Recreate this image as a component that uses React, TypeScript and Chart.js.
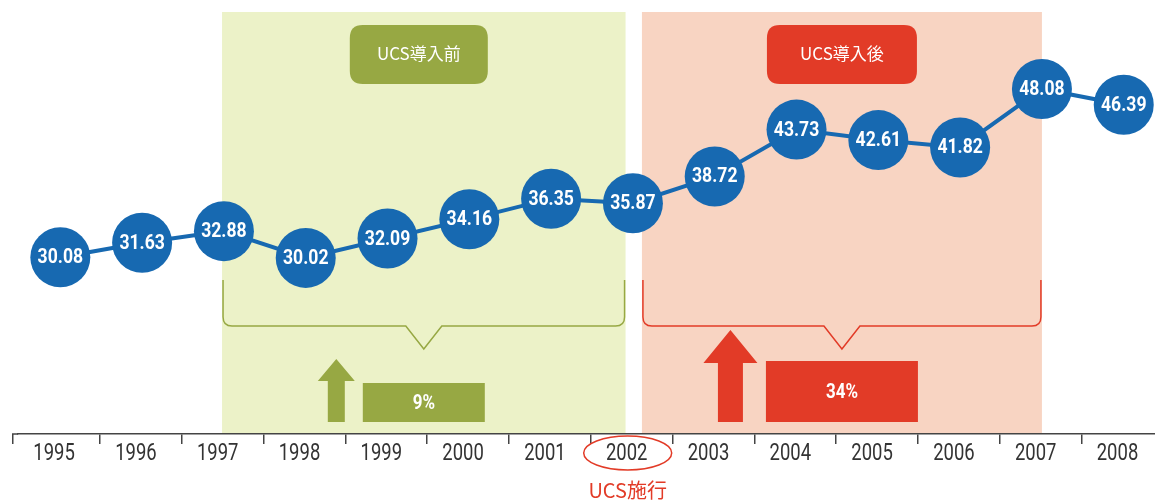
import React, { useEffect, useRef } from "react";
import { Chart, registerables } from "chart.js";

Chart.register(...registerables);

const years = ["1995", "1996", "1997", "1998", "1999", "2000", "2001", "2002", "2003", "2004", "2005", "2006", "2007", "2008"];
const values = [30.08, 31.63, 32.88, 30.02, 32.09, 34.16, 36.35, 35.87, 38.72, 43.73, 42.61, 41.82, 48.08, 46.39];
const periodLabels = ["UCS導入前", "UCS導入後"];
const periodRanges = [[1.977, 6.91], [7.11, 12.0]];
const growthLabels = ["9%", "34%"];
const eventIndex = 7;
const eventLabel = "UCS施行";

const BLUE = "#1769B1";
const GREEN = "#97A843";
const GREEN_BG = "#ECF2C8";
const RED = "#E23B27";
const RED_BG = "#F8D4C2";
const AXIS = "#444";
const NUM = "Roboto, 'DejaVu Sans', sans-serif";
const CJK = "'Noto Sans CJK JP', 'Noto Sans', sans-serif";

function condensedText(ctx: CanvasRenderingContext2D, text: string, x: number, y: number, sx: number) {
  ctx.save();
  ctx.translate(x, y);
  ctx.scale(sx, 1);
  ctx.fillText(text, 0, 0);
  ctx.restore();
}

function roundRect(ctx: CanvasRenderingContext2D, x: number, y: number, w: number, h: number, r: number) {
  ctx.beginPath();
  ctx.moveTo(x + r, y);
  ctx.lineTo(x + w - r, y);
  ctx.quadraticCurveTo(x + w, y, x + w, y + r);
  ctx.lineTo(x + w, y + h - r);
  ctx.quadraticCurveTo(x + w, y + h, x + w - r, y + h);
  ctx.lineTo(x + r, y + h);
  ctx.quadraticCurveTo(x, y + h, x, y + h - r);
  ctx.lineTo(x, y + r);
  ctx.quadraticCurveTo(x, y, x + r, y);
  ctx.closePath();
}

const bandsPlugin = {
  id: "bands",
  beforeDraw(chart: any) {
    const ctx = chart.ctx;
    const xp = chart.scales.xp;
    const area = chart.chartArea;
    const bgs = [GREEN_BG, RED_BG];
    ctx.save();
    periodRanges.forEach((r, i) => {
      const x0 = xp.getPixelForValue(r[0]);
      const x1 = xp.getPixelForValue(r[1]);
      ctx.fillStyle = bgs[i];
      ctx.fillRect(x0, area.top, x1 - x0, area.bottom - area.top);
    });
    ctx.restore();
  },
  beforeDatasetsDraw(chart: any) {
    const ctx = chart.ctx;
    const xp = chart.scales.xp;
    const area = chart.chartArea;
    const bottom = area.bottom;
    const cols = [GREEN, RED];
    const boxW = [138, 150];
    const barW = [122, 152];
    const barH = [39, 61];
    const shaftHW = [8.5, 12.5];
    const headHW = [18.5, 27];
    const headH = [22, 33];
    const arrowTop = [bottom - 75, bottom - 104];
    const arrowGap = [26.5, 35.5];
    ctx.save();
    // axis start segment with its end tick
    ctx.strokeStyle = AXIS;
    ctx.lineWidth = 1.5;
    ctx.beginPath();
    ctx.moveTo(12.75, bottom + 10);
    ctx.lineTo(12.75, bottom);
    ctx.lineTo(area.left, bottom);
    ctx.stroke();
    periodRanges.forEach((r, i) => {
      const x0 = xp.getPixelForValue(r[0]);
      const x1 = xp.getPixelForValue(r[1]);
      const mid = (x0 + x1) / 2;
      const col = cols[i];
      // title box
      const bx = mid - boxW[i] / 2 - (i === 0 ? 5 : 0);
      ctx.fillStyle = col;
      roundRect(ctx, bx, area.top + 13, boxW[i], 59, 13);
      ctx.fill();
      ctx.fillStyle = "#fff";
      ctx.font = "17px " + CJK;
      ctx.textAlign = "center";
      ctx.textBaseline = "middle";
      ctx.fillText(periodLabels[i], bx + boxW[i] / 2, area.top + 42);
      // brace
      const top = bottom - 154;
      const by = bottom - 108;
      const apex = bottom - 85;
      const rad = 9;
      ctx.strokeStyle = col;
      ctx.lineWidth = 1.5;
      ctx.beginPath();
      ctx.moveTo(x0 + 1, top);
      ctx.lineTo(x0 + 1, by - rad);
      ctx.quadraticCurveTo(x0 + 1, by, x0 + 1 + rad, by);
      ctx.lineTo(mid - 18, by);
      ctx.lineTo(mid, apex);
      ctx.lineTo(mid + 18, by);
      ctx.lineTo(x1 - 1 - rad, by);
      ctx.quadraticCurveTo(x1 - 1, by, x1 - 1, by - rad);
      ctx.lineTo(x1 - 1, top);
      ctx.stroke();
      // percentage bar
      const barBottom = bottom - 12;
      const barX = mid - barW[i] / 2;
      ctx.fillStyle = col;
      ctx.fillRect(barX, barBottom - barH[i], barW[i], barH[i]);
      ctx.fillStyle = "#fff";
      ctx.font = "bold 20px " + NUM;
      condensedText(ctx, growthLabels[i], mid, barBottom - barH[i] / 2 + 1, 0.85);
      // arrow
      const ac = barX - arrowGap[i];
      const aTop = arrowTop[i];
      ctx.fillStyle = col;
      ctx.beginPath();
      ctx.moveTo(ac, aTop);
      ctx.lineTo(ac + headHW[i], aTop + headH[i]);
      ctx.lineTo(ac + shaftHW[i], aTop + headH[i]);
      ctx.lineTo(ac + shaftHW[i], barBottom);
      ctx.lineTo(ac - shaftHW[i], barBottom);
      ctx.lineTo(ac - shaftHW[i], aTop + headH[i]);
      ctx.lineTo(ac - headHW[i], aTop + headH[i]);
      ctx.closePath();
      ctx.fill();
    });
    ctx.restore();
  },
  afterDraw(chart: any) {
    const ctx = chart.ctx;
    const x = chart.scales.x;
    const area = chart.chartArea;
    ctx.save();
    // tick labels
    ctx.fillStyle = "#333";
    ctx.font = "24px " + NUM;
    ctx.textAlign = "center";
    ctx.textBaseline = "middle";
    x.ticks.forEach((t: any, i: number) => {
      condensedText(ctx, String(x.getLabelForValue(t.value)), x.getPixelForTick(i) - 5, area.bottom + 20, 0.77);
    });
    // event marker
    const cx = x.getPixelForValue(eventIndex) - 4;
    const cy = area.bottom + 19;
    ctx.strokeStyle = RED;
    ctx.lineWidth = 1.5;
    ctx.beginPath();
    ctx.ellipse(cx, cy, 44, 17, 0, 0, Math.PI * 2);
    ctx.stroke();
    ctx.fillStyle = RED;
    ctx.font = "20px " + CJK;
    ctx.fillText(eventLabel, cx, cy + 37);
    ctx.restore();
  },
};

const valueLabelPlugin = {
  id: "valueLabels",
  afterDatasetsDraw(chart: any) {
    const ctx = chart.ctx;
    const meta = chart.getDatasetMeta(0);
    ctx.save();
    ctx.fillStyle = "#fff";
    ctx.font = "bold 20px " + NUM;
    ctx.textAlign = "center";
    ctx.textBaseline = "middle";
    meta.data.forEach((el: any, i: number) => {
      condensedText(ctx, values[i].toFixed(2), el.x, el.y + 1, 0.88);
    });
    ctx.restore();
  },
};

export default function App() {
  const ref = useRef<HTMLCanvasElement>(null);
  useEffect(() => {
    if (!ref.current) return;
    const chart = new Chart(ref.current, {
      type: "line",
      data: {
        labels: years,
        datasets: [
          {
            data: values.map((v, i) => ({ x: i, y: v })),
            xAxisID: "xp",
            yAxisID: "y",
            borderColor: BLUE,
            borderWidth: 4,
            backgroundColor: BLUE,
            pointBackgroundColor: BLUE,
            pointBorderWidth: 0,
            pointRadius: 30,
            pointHoverRadius: 30,
            tension: 0,
            clip: false as any,
          },
        ],
      },
      options: {
        responsive: false,
        animation: false,
        events: [],
        layout: { autoPadding: false, padding: { left: 18.2, right: 6.6, top: 12, bottom: 58 } },
        plugins: { legend: { display: false }, tooltip: { enabled: false } },
        scales: {
          x: {
            type: "category",
            labels: years,
            offset: true,
            grid: {
              display: true,
              offset: true,
              drawOnChartArea: false,
              drawTicks: true,
              tickLength: 10,
              color: (c: any) => (c.index === 0 ? "rgba(0,0,0,0)" : AXIS),
              lineWidth: 1.5,
            },
            border: { display: true, color: AXIS, width: 1.5 },
            ticks: { display: false, autoSkip: false },
          },
          xp: { type: "linear", display: false, min: -0.515, max: 13.485 },
          y: { type: "linear", display: false, min: 11.2, max: 56.3 },
        },
      },
      plugins: [bandsPlugin, valueLabelPlugin],
    } as any);
    return () => chart.destroy();
  }, []);
  return (
    <div style={{ position: "absolute", left: 0, top: 0, width: 1155, height: 502, overflow: "hidden" }}>
      <canvas ref={ref} width={1170} height={502} style={{ display: "block" }} />
    </div>
  );
}
